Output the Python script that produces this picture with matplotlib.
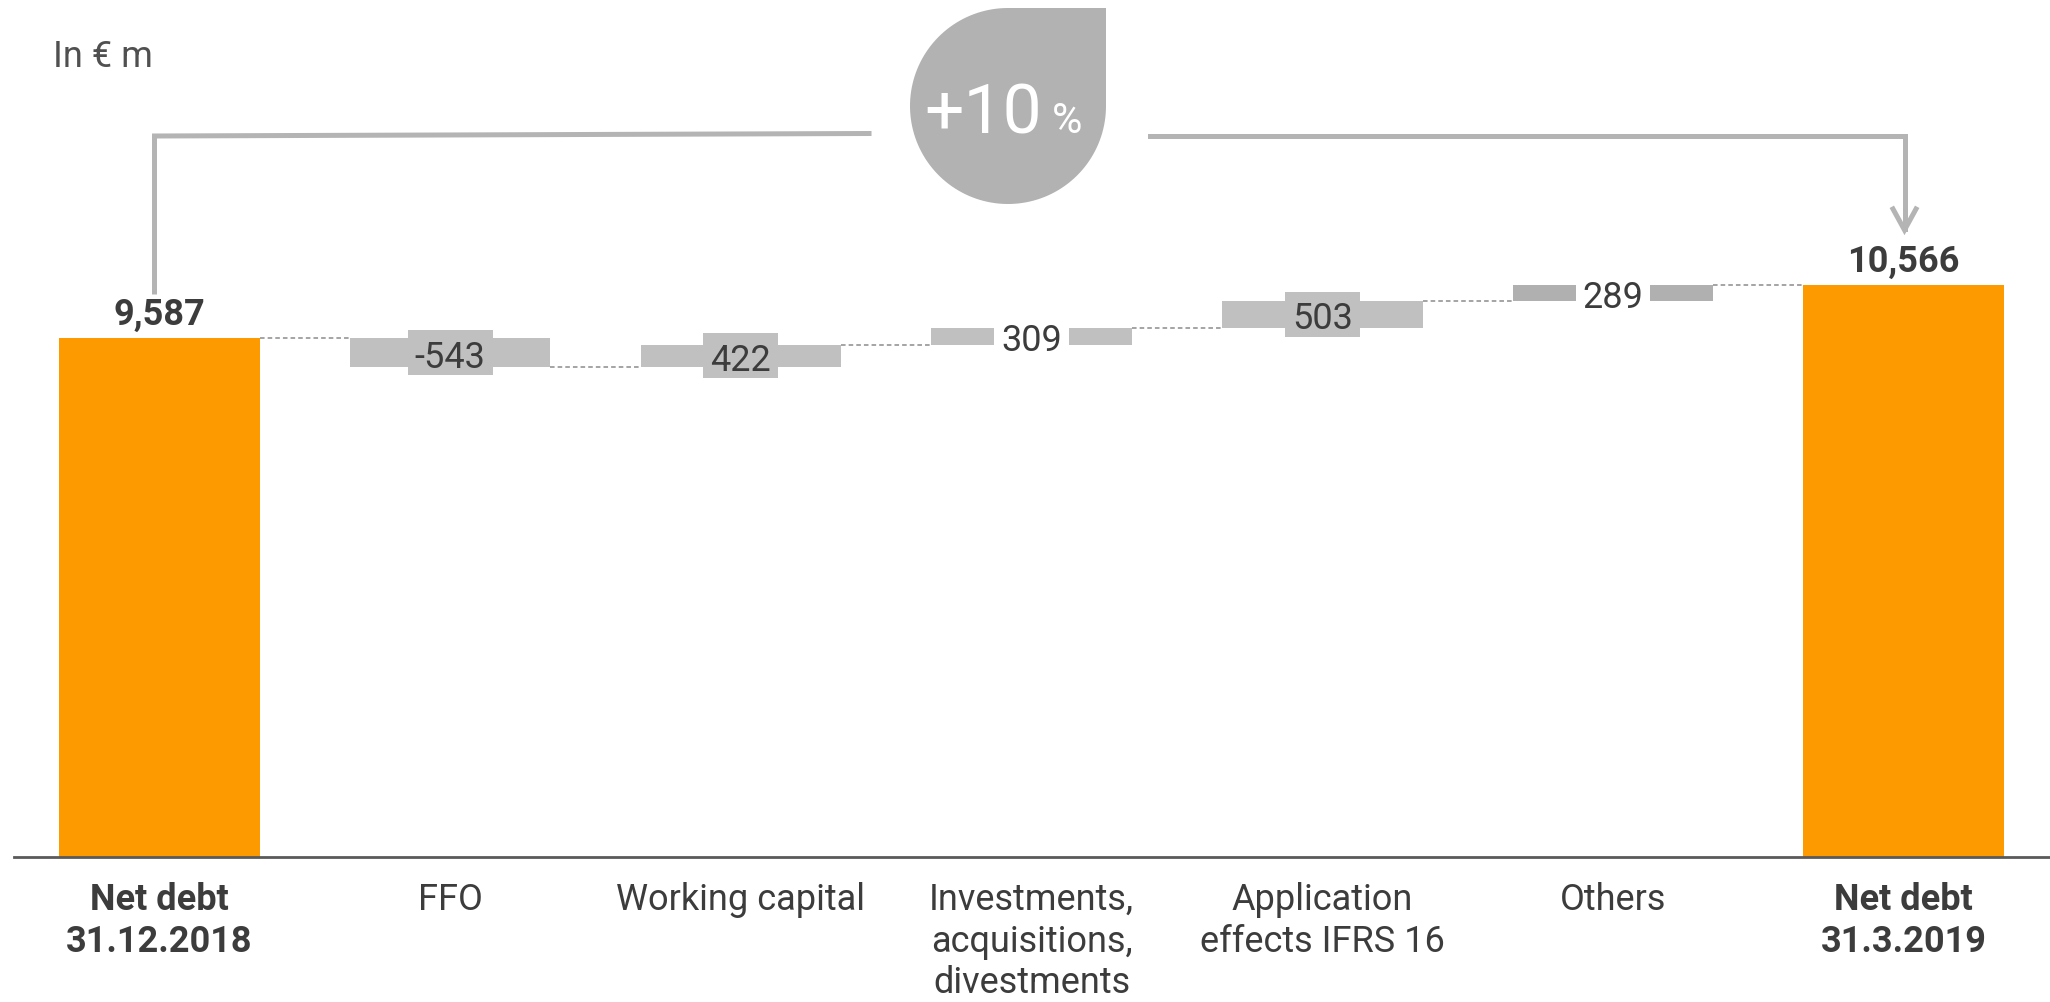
import numpy as np
import matplotlib.pyplot as plt
from matplotlib.patches import Polygon, Rectangle
from matplotlib.transforms import Affine2D, blended_transform_factory, IdentityTransform

plt.rcParams['font.family'] = ['Roboto', 'DejaVu Sans']

# net debt bridge, in EUR m
categories = ['Net debt\n31.12.2018', 'FFO', 'Working capital',
              'Investments,\nacquisitions,\ndivestments',
              'Application\neffects IFRS 16', 'Others', 'Net debt\n31.3.2019']
start_value = 9587
end_value = 10566
changes = [-543, 422, 309, 503, 289]
change_labels = ['-543', '422', '309', '503', '289']
change_colors = ['#c0c0c0', '#c0c0c0', '#c0c0c0', '#c0c0c0', '#b0b0b0']
label_bg = ['#c0c0c0', '#c0c0c0', 'white', '#c0c0c0', 'white']

orange = '#fd9a00'
dark = '#3c3c3c'
bracket = '#b4b4b4'

W, H, DPI = 2050, 1003, 100
fig = plt.figure(figsize=(W / DPI, H / DPI), dpi=DPI)
# pixel coords measured from the top left corner
px = Affine2D().scale(1 / DPI, -1 / DPI).translate(0, H / DPI) + fig.dpi_scale_trans

ax = fig.add_axes([14 / W, 145.4 / H, 2036 / W, 857.6 / H])
ax.set_xlim(-0.5, 6.503)
ax.set_ylim(0, 15855)
ax.axis('off')
bw = 0.69

# totals
ax.bar([0, 6], [start_value, end_value], width=bw, color=orange, zorder=2)
ax.axhline(0, color='#5a5a5a', lw=2, clip_on=False, zorder=3)
for x, v in [(0, start_value), (6, end_value)]:
    ax.annotate(f'{v:,}', (x, v), xytext=(0, 10), textcoords='offset points',
                ha='center', va='baseline', fontsize=26, fontweight='bold', color=dark)

# floating steps
levels = start_value + np.cumsum([0] + changes)
texts = []
for i, ch in enumerate(changes):
    x = i + 1
    lo, hi = sorted([levels[i], levels[i + 1]])
    ax.bar(x, hi - lo, bottom=lo, width=bw, color=change_colors[i], zorder=2)
    t = ax.text(x, (lo + hi) / 2, change_labels[i], ha='center', va='center_baseline',
                fontsize=26, color=dark, zorder=5)
    texts.append(t)

# dashed connectors
for i in range(len(levels)):
    ax.plot([i + bw / 2, i + 1 - bw / 2], [levels[i], levels[i]], color='#8c8c8c',
            lw=1.1, dashes=(3, 2), zorder=2)

# boxes behind the step labels
fig.canvas.draw()
for i, t in enumerate(texts):
    bb = t.get_window_extent()
    cx, cy = ax.transData.transform((i + 1, (levels[i] + levels[i + 1]) / 2))
    bwid = bb.width + 14
    ax.add_patch(Rectangle((cx - bwid / 2, cy - 22.5), bwid, 45, transform=IdentityTransform(),
                           facecolor=label_bg[i], edgecolor='none', zorder=4))

# category labels
lab_tr = blended_transform_factory(ax.transData, px)
for i, c in enumerate(categories):
    bold = i in (0, 6)
    ax.text(i, 882, c, transform=lab_tr, ha='center', va='top', fontsize=26,
            fontweight='bold' if bold else 'normal', color=dark, linespacing=1.2,
            multialignment='center')

fig.text(53, 67, 'In € m', transform=px, fontsize=26, color='#505050', va='baseline')

# bracket from start total to end total
fig.add_artist(plt.Line2D([154.5, 154.5, 869], [293, 137, 134.5], transform=px,
                          color=bracket, lw=3.6, solid_joinstyle='miter'))
fig.add_artist(plt.Line2D([1150, 1904.5, 1904.5], [136.5, 136.5, 230], transform=px,
                          color=bracket, lw=3.6, solid_joinstyle='miter'))
fig.add_artist(plt.Line2D([1893, 1904.5, 1916], [210, 231, 210], transform=px,
                          color=bracket, lw=3.6, solid_joinstyle='miter'))

# drop shaped badge with the change in percent
cx, cy, r = 1008, 107, 98
ang = np.linspace(0, 1.5 * np.pi, 120)
pts = np.column_stack([cx + r * np.cos(ang), cy + r * np.sin(ang)])
pts = np.vstack([pts, [[cx + r, cy - r]]])
fig.add_artist(Polygon(pts, closed=True, transform=px, facecolor='#b2b2b2', edgecolor='none'))
pct = round((end_value - start_value) / start_value * 100)
fig.text(1042, 133, f'+{pct}', transform=px, ha='right', va='baseline', fontsize=50,
         color='white')
fig.text(1052, 133, '%', transform=px, ha='left', va='baseline', fontsize=30, color='white')

fig.savefig('out.png', dpi=DPI)
